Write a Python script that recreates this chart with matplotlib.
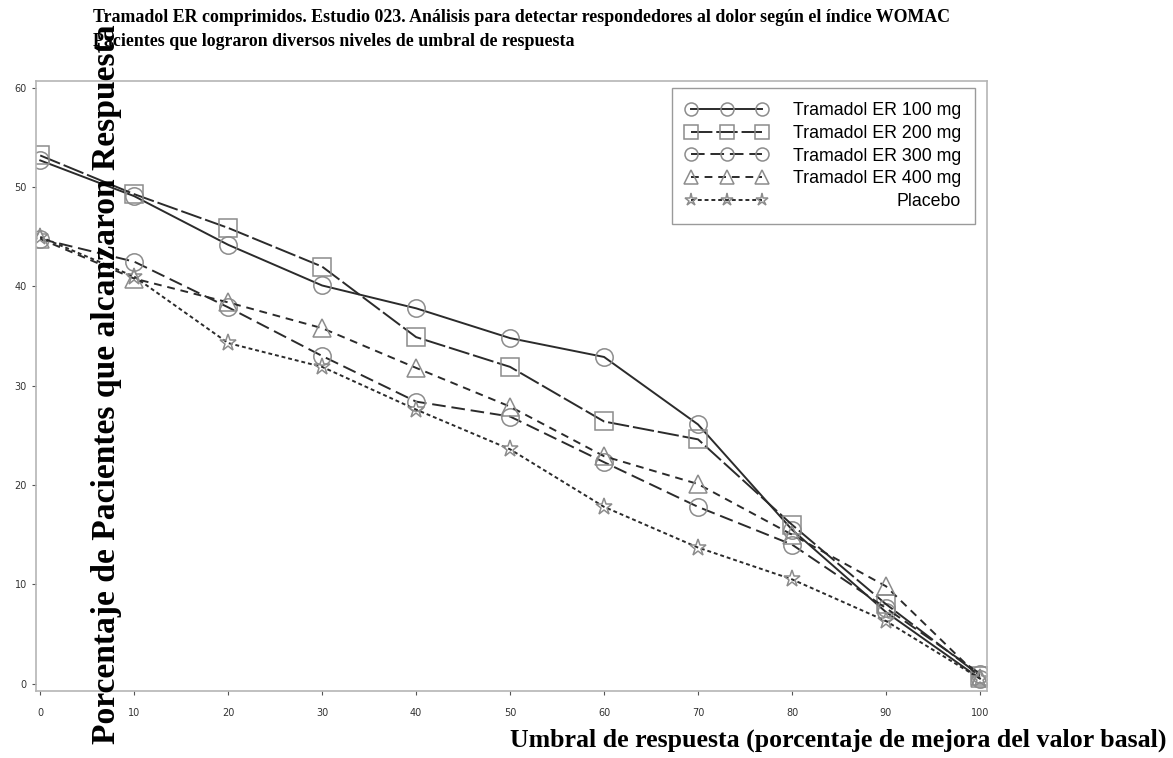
import matplotlib
matplotlib.use('Agg')
import matplotlib.pyplot as plt

# umbral de respuesta (% de mejora)
umbral = [0, 10, 20, 30, 40, 50, 60, 70, 80, 90, 100]

t100 = [52.7, 49.1, 44.2, 40.1, 37.8, 34.8, 32.9, 26.1, 15.5, 7.2, 0.5]
t200 = [53.2, 49.3, 45.9, 42.0, 34.9, 31.9, 26.4, 24.6, 16.0, 8.0, 0.8]
t300 = [44.8, 42.5, 37.9, 33.0, 28.4, 26.9, 22.3, 17.8, 14.0, 7.6, 1.0]
t400 = [44.8, 40.8, 38.4, 35.8, 31.8, 27.9, 22.9, 20.1, 15.0, 9.8, 0.6]
placebo = [45.0, 41.0, 34.3, 31.9, 27.6, 23.6, 17.8, 13.7, 10.5, 6.3, 0.5]

etiquetas = ['Tramadol ER 100 mg', 'Tramadol ER 200 mg', 'Tramadol ER 300 mg',
             'Tramadol ER 400 mg', 'Placebo']

W, H = 1173, 758
fig = plt.figure(figsize=(W / 100, H / 100), dpi=100)
ax = fig.add_axes([36 / W, 1 - 691 / H, (987 - 36) / W, (691 - 81) / H])

linea = '#2b2b2b'
marca = '#8c8c8c'
estilos = [
    ('o', '-'),
    ('s', (0, (11, 2))),
    ('o', (0, (7, 3))),
    ('^', (0, (4, 3))),
    ('*', (0, (2, 1.5))),
]
series = [t100, t200, t300, t400, placebo]

for vals, lab, (m, ls) in zip(series, etiquetas, estilos):
    ax.plot(umbral, vals, color=linea, lw=1.4, linestyle=ls,
            marker=m, markersize=12.5, mfc='none', mec=marca, mew=1.1,
            label=lab)

ax.set_xlim(-0.45, 100.75)
ax.set_ylim(-0.75, 60.7)
ax.set_xticks(umbral)
ax.set_yticks([0, 10, 20, 30, 40, 50, 60])
ax.tick_params(labelsize=7, colors='#555555', length=3, width=0.8,
               labelcolor='#333333')
ax.tick_params(axis='x', pad=9)
for s in ax.spines.values():
    s.set_color('#b5b5b5')
    s.set_linewidth(1.2)

leg = ax.legend(loc='upper right', bbox_to_anchor=(0.9874, 0.9885),
                borderaxespad=0, numpoints=3, handlelength=4.6,
                handletextpad=1.4, markerscale=0.75, fancybox=False,
                prop={'family': 'Liberation Sans', 'size': 12.8},
                edgecolor='#9a9a9a', framealpha=1, borderpad=0.8,
                labelspacing=0.32)
leg.get_frame().set_linewidth(1.0)
# texto de la leyenda alineado a la derecha
fig.canvas.draw()
r = fig.canvas.get_renderer()
textos = leg.get_texts()
anchos = [t.get_window_extent(r).width for t in textos]
for t, w in zip(textos, anchos):
    t.set_position((max(anchos) - w, 0))

fig.text(93 / W, 1 - 18 / H,
         'Tramadol ER comprimidos. Estudio 023. Análisis para detectar respondedores al dolor según el índice WOMAC',
         family='Liberation Serif', weight='bold', size=12.9, va='center', ha='left')
fig.text(93 / W, 1 - 41 / H,
         'Pacientes que lograron diversos niveles de umbral de respuesta',
         family='Liberation Serif', weight='bold', size=12.9, va='center', ha='left')

fig.text(107 / W, 1 - 384 / H, 'Porcentaje de Pacientes que alcanzaron Respuesta',
         family='Liberation Serif', weight='bold', size=24.2, rotation=90,
         va='center', ha='center')
fig.text(838 / W, 1 - 740 / H,
         'Umbral de respuesta (porcentaje de mejora del valor basal)',
         family='Liberation Serif', weight='bold', size=18.6, va='center', ha='center')

fig.savefig('out.png', dpi=100)
